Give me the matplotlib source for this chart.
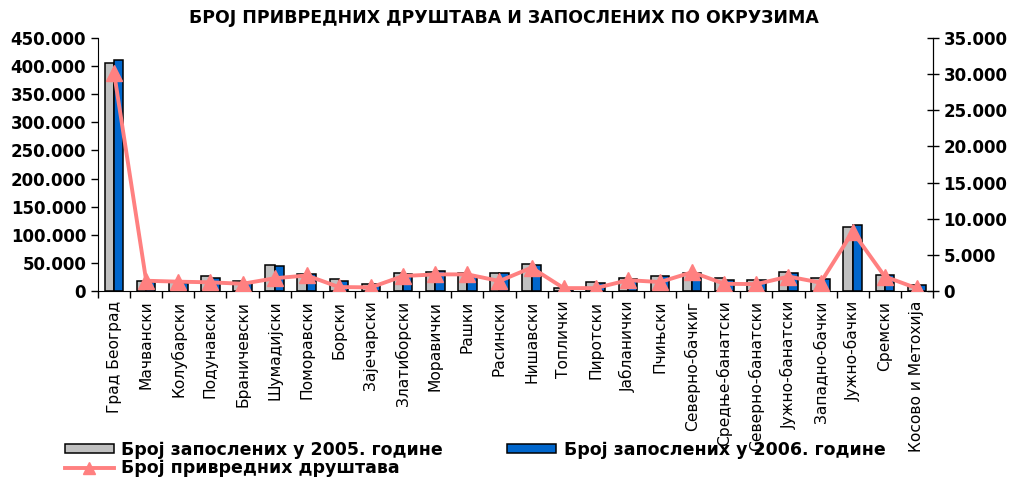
import matplotlib
matplotlib.use('Agg')
import matplotlib.pyplot as plt
from matplotlib.ticker import FuncFormatter, MultipleLocator
from matplotlib.patches import Patch
from matplotlib.lines import Line2D
import numpy as np

okruzi = ["Град Београд", "Мачвански", "Колубарски", "Подунавски", "Браничевски",
          "Шумадијски", "Поморавски", "Борски", "Зајечарски", "Златиборски",
          "Моравички", "Рашки", "Расински", "Нишавски", "Топлички", "Пиротски",
          "Јабланички", "Пчињски", "Северно-бачкиг", "Средње-банатски",
          "Северно-банатски", "Јужно-банатски", "Западно-бачки", "Јужно-бачки",
          "Сремски", "Косово и Метохија"]

zaposleni_2005 = [405000, 17800, 16000, 26700, 17800, 47000, 31000, 22000, 13200, 32700,
                  34000, 31500, 32700, 47500, 6000, 16000, 23800, 26700, 32700, 22600,
                  19600, 34300, 22600, 114400, 28500, 10000]
zaposleni_2006 = [411000, 16000, 15000, 23800, 16000, 44500, 30000, 17800, 12500, 31000,
                  35000, 27000, 32700, 47000, 5500, 15000, 22000, 26700, 32000, 19600,
                  19000, 32000, 22000, 117400, 28000, 10700]
privredna_drustva = [30200, 1420, 1290, 1200, 1000, 1760, 2150, 550, 500, 2070,
                     2300, 2300, 1380, 3230, 400, 400, 1500, 1240, 2600, 1000,
                     950, 2000, 1150, 8200, 2000, 370]


def tacka(v, pos):
    return f"{int(v):,}".replace(",", ".")


fig = plt.figure(figsize=(10.13, 4.79), dpi=100)
ax = fig.add_axes([98 / 1013, 1 - 291 / 479, 835 / 1013, 253 / 479])
ax2 = ax.twinx()

x = np.arange(len(okruzi))
w = 0.29
ax.bar(x - w / 2, zaposleni_2005, w, color="#C0C0C0", edgecolor="black", linewidth=1.1)
ax.bar(x + w / 2, zaposleni_2006, w, color="#0066CC", edgecolor="black", linewidth=1.1)
ax2.plot(x, privredna_drustva, color="#FF8080", linewidth=2.8, marker="^", markersize=11)

ax.set_xlim(-0.5, len(okruzi) - 0.5)
ax.set_ylim(0, 450000)
ax2.set_ylim(0, 35000)
ax.yaxis.set_major_locator(MultipleLocator(50000))
ax2.yaxis.set_major_locator(MultipleLocator(5000))
ax.yaxis.set_major_formatter(FuncFormatter(tacka))
ax2.yaxis.set_major_formatter(FuncFormatter(tacka))

ax.set_xticks(x)
ax.set_xticklabels(okruzi, rotation=90, fontsize=11.2, family="DejaVu Sans")
ax.set_xticks(np.arange(len(okruzi) + 1) - 0.5, minor=True)
ax.tick_params(axis="x", which="major", length=0, pad=7)
ax.tick_params(axis="x", which="minor", length=5, direction="out", width=1)
ax.tick_params(axis="y", length=5, direction="out", width=1)
ax2.tick_params(axis="y", length=8, direction="inout", width=1)

for a in (ax, ax2):
    a.spines["top"].set_visible(False)
    for lab in a.get_yticklabels():
        lab.set_fontweight("bold")
        lab.set_fontsize(12)
ax2.spines["left"].set_visible(False)
ax2.spines["bottom"].set_visible(False)

fig.text(0.497, 0.962, "БРОЈ ПРИВРЕДНИХ ДРУШТАВА И ЗАПОСЛЕНИХ ПО ОКРУЗИМА",
         ha="center", va="center", fontsize=12.5, fontweight="bold")

handles = [Patch(facecolor="#C0C0C0", edgecolor="black", linewidth=1.1),
           Line2D([], [], color="#FF8080", linewidth=2.8, marker="^", markersize=9),
           Patch(facecolor="#0066CC", edgecolor="black", linewidth=1.1)]
labels = ["Број запослених у 2005. године", "Број привредних друштава",
          "Број запослених у 2006. године"]
fig.legend(handles, labels, ncol=2, loc="upper left",
           bbox_to_anchor=(65 / 1013, 1 - 441 / 479), frameon=False,
           prop={"weight": "bold", "size": 12.5}, handlelength=2.8,
           handleheight=0.4, handletextpad=0.45, labelspacing=0.0,
           columnspacing=3.7, borderpad=0, borderaxespad=0)

plt.savefig("out.png", dpi=100)
